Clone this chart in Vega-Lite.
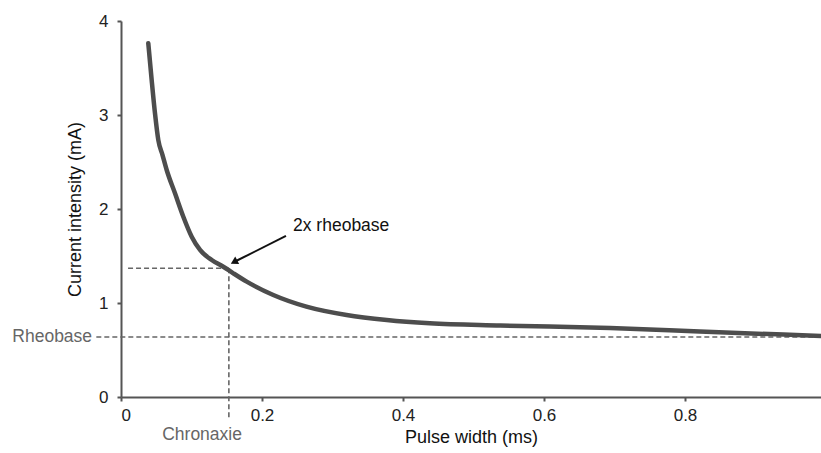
{
  "$schema": "https://vega.github.io/schema/vega-lite/v6.json",
  "width": 700,
  "height": 376,
  "autosize": {"type": "none"},
  "padding": {"left": 121, "top": 21, "right": 0, "bottom": 56},
  "background": "white",
  "config": {
    "view": {"stroke": null},
    "font": "Liberation Sans",
    "axis": {
      "grid": false,
      "domainColor": "#555555",
      "domainWidth": 2,
      "tickColor": "#555555",
      "tickWidth": 2,
      "tickSize": 4,
      "labelFont": "Liberation Sans",
      "labelFontSize": 17,
      "labelColor": "#222222",
      "titleFont": "Liberation Sans",
      "titleFontSize": 18,
      "titleFontWeight": "normal",
      "titleColor": "#111111"
    }
  },
  "datasets": {
    "curve": [
      {"pw": 0.0387, "current": 3.763},
      {"pw": 0.0435, "current": 3.372},
      {"pw": 0.0482, "current": 3.018},
      {"pw": 0.0529, "current": 2.734},
      {"pw": 0.0589, "current": 2.574},
      {"pw": 0.0648, "current": 2.415},
      {"pw": 0.0766, "current": 2.167},
      {"pw": 0.0884, "current": 1.918},
      {"pw": 0.1003, "current": 1.705},
      {"pw": 0.1121, "current": 1.564},
      {"pw": 0.1287, "current": 1.457},
      {"pw": 0.1451, "current": 1.386},
      {"pw": 0.1593, "current": 1.316},
      {"pw": 0.1783, "current": 1.227},
      {"pw": 0.216, "current": 1.085},
      {"pw": 0.263, "current": 0.961},
      {"pw": 0.32, "current": 0.872},
      {"pw": 0.377, "current": 0.819},
      {"pw": 0.438, "current": 0.784},
      {"pw": 0.538, "current": 0.761},
      {"pw": 0.694, "current": 0.734},
      {"pw": 0.821, "current": 0.697},
      {"pw": 0.993, "current": 0.649}
    ],
    "guides": [
      {"name": "rheobase", "x1": -0.035, "x2": 0.993, "y1": 0.638, "y2": 0.638},
      {"name": "twice", "x1": 0.01, "x2": 0.153, "y1": 1.369, "y2": 1.369},
      {"name": "chronaxie", "x1": 0.153, "x2": 0.153, "y1": 1.369, "y2": -0.245}
    ],
    "arrow": [
      {"x1": 0.234, "y1": 1.713, "x2": 0.1603, "y2": 1.436}
    ]
  },
  "layer": [
    {
      "data": {"name": "guides"},
      "mark": {"type": "rule", "color": "#666666", "strokeWidth": 1.6, "strokeDash": [5, 3]},
      "encoding": {
        "x": {"field": "x1", "type": "quantitative", "scale": {"domain": [0, 0.9929], "nice": false},
              "axis": {"values": [0, 0.2, 0.4, 0.6, 0.8], "format": "~g", "title": "Pulse width (ms)", "labelPadding": 6, "titlePadding": 5}},
        "x2": {"field": "x2"},
        "y": {"field": "y1", "type": "quantitative", "scale": {"domain": [0, 4], "nice": false},
              "axis": {"values": [0, 1, 2, 3, 4], "format": "d", "title": "Current intensity (mA)", "labelPadding": 9, "titlePadding": 14}},
        "y2": {"field": "y2"}
      }
    },
    {
      "data": {"name": "curve"},
      "mark": {"type": "line", "color": "#4d4d4d", "strokeWidth": 4.5, "interpolate": "monotone", "strokeCap": "round"},
      "encoding": {
        "x": {"field": "pw", "type": "quantitative"},
        "y": {"field": "current", "type": "quantitative"}
      }
    },
    {
      "data": {"name": "arrow"},
      "mark": {"type": "rule", "color": "#111111", "strokeWidth": 2},
      "encoding": {
        "x": {"field": "x1", "type": "quantitative"},
        "x2": {"field": "x2"},
        "y": {"field": "y1", "type": "quantitative"},
        "y2": {"field": "y2"}
      }
    },
    {
      "data": {"name": "arrow"},
      "mark": {"type": "point", "shape": "triangle-up", "filled": true, "color": "#111111", "size": 70, "angle": 242, "opacity": 1},
      "encoding": {
        "x": {"field": "x2", "type": "quantitative"},
        "y": {"field": "y2", "type": "quantitative"}
      }
    },
    {
      "data": {"values": [{"text": "Rheobase", "x": -0.041, "y": 0.638}]},
      "mark": {"type": "text", "align": "right", "baseline": "middle", "font": "Liberation Sans", "fontSize": 17.5, "color": "#666666"},
      "encoding": {
        "x": {"field": "x", "type": "quantitative"},
        "y": {"field": "y", "type": "quantitative"},
        "text": {"field": "text"}
      }
    },
    {
      "data": {"values": [{"text": "Chronaxie", "x": 0.115, "y": -0.40}]},
      "mark": {"type": "text", "align": "center", "baseline": "middle", "font": "Liberation Sans", "fontSize": 17.5, "color": "#666666"},
      "encoding": {
        "x": {"field": "x", "type": "quantitative"},
        "y": {"field": "y", "type": "quantitative"},
        "text": {"field": "text"}
      }
    },
    {
      "data": {"values": [{"text": "2x rheobase", "x": 0.244, "y": 1.82}]},
      "mark": {"type": "text", "align": "left", "baseline": "middle", "font": "Liberation Sans", "fontSize": 17.5, "color": "#111111"},
      "encoding": {
        "x": {"field": "x", "type": "quantitative"},
        "y": {"field": "y", "type": "quantitative"},
        "text": {"field": "text"}
      }
    }
  ]
}
